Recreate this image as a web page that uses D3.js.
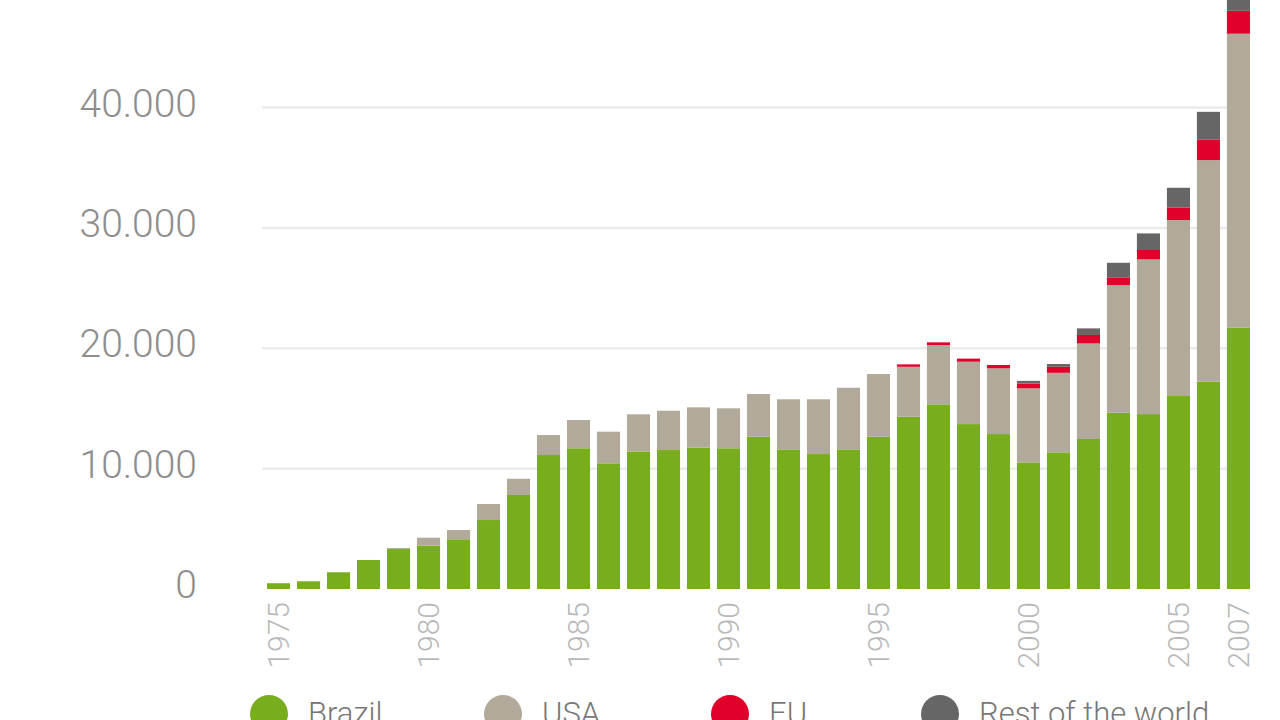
<!DOCTYPE html>
<html>
<head>
<meta charset="utf-8">
<script src="https://cdn.jsdelivr.net/npm/d3@7"></script>
<style>
  html, body { margin: 0; padding: 0; background: #ffffff; overflow: hidden; }
  svg { display: block; font-family: Roboto, "Liberation Sans", Arial, sans-serif; font-weight: 300; }
</style>
</head>
<body>
<svg id="chart" width="1280" height="720"></svg>
<script>
// ---- data (million litres) ----
const years = [1975,1976,1977,1978,1979,1980,1981,1982,1983,1984,1985,1986,1987,1988,1989,1990,
               1991,1992,1993,1994,1995,1996,1997,1998,1999,2000,2001,2002,2003,2004,2005,2006,2007];
const brazil = [480,640,1390,2410,3320,3600,4130,5730,7810,11130,11690,10440,11400,11545,11740,11690,
                12650,11600,11210,11600,12650,14310,15340,13700,12870,10520,11350,12460,14640,14530,16030,17220,21700];
const usa = [0,0,0,0,80,660,770,1330,1350,1660,2350,2630,3110,3265,3350,3320,
             3550,4160,4550,5120,5210,4150,4930,5180,5460,6150,6610,7940,10610,12850,14620,18410,24430];
const eu = [0,0,0,0,0,0,0,0,0,0,0,0,0,0,0,0,
            0,0,0,0,0,200,220,260,280,400,500,700,640,780,1050,1720,1900];
const rest = [0,0,0,0,0,0,0,0,0,0,0,0,0,0,0,0,
              0,0,0,0,0,0,0,0,0,220,230,550,1210,1380,1630,2290,2500];
const seriesNames = ["Brazil","USA","EU","Rest of the world"];
const yTickValues = [0,10000,20000,30000,40000,50000];
const xTickYears = [1975,1980,1985,1990,1995,2000,2005,2007];

// ---- styles ----
const colors = ["#78ad1e","#b1aa9b","#e1002b","#666666"];

const rows = years.map((yr,i) => ({year: yr, "Brazil": brazil[i], "USA": usa[i], "EU": eu[i], "Rest of the world": rest[i]}));

const svg = d3.select("#chart");

const x = d3.scaleBand().domain(years).range([261,1256]).paddingInner(0.23).paddingOuter(0.2);
const y = d3.scaleLinear().domain([0,40000]).range([589,107.5]);

// gridlines
svg.append("g").selectAll("line")
  .data(yTickValues.filter(v => v > 0))
  .join("line")
  .attr("x1", 262).attr("x2", 1247)
  .attr("y1", d => y(d)).attr("y2", d => y(d))
  .attr("stroke", "#ebebeb").attr("stroke-width", 2.5);

// stacked bars
const stack = d3.stack().keys(seriesNames);
const layers = stack(rows);
svg.append("g").selectAll("g")
  .data(layers)
  .join("g")
  .attr("fill", (d,i) => colors[i])
  .selectAll("rect")
  .data(d => d)
  .join("rect")
  .attr("x", d => x(d.data.year))
  .attr("width", x.bandwidth())
  .attr("y", d => y(d[1]))
  .attr("height", d => Math.max(0, y(d[0]) - y(d[1])));

// y axis labels
const fmt = v => d3.format(",")(v).replace(/,/g, ".");
const yAxis = svg.append("g")
  .attr("transform", "translate(197,0)")
  .call(d3.axisLeft(y).tickValues(yTickValues).tickFormat(fmt).tickSize(0).tickPadding(0));
yAxis.select(".domain").remove();
yAxis.selectAll("text")
  .attr("fill", "#8e8e8e")
  .attr("font-size", 39)
  .attr("font-family", "Roboto, Liberation Sans, Arial, sans-serif")
  .attr("font-weight", 300)
  .attr("dy", null)
  .attr("y", 8.5);

// x axis labels
const xAxis = svg.append("g")
  .attr("transform", `translate(0,${y(0)})`)
  .call(d3.axisBottom(x).tickValues(xTickYears).tickSize(0).tickPadding(0));
xAxis.select(".domain").remove();
xAxis.selectAll("text")
  .attr("fill", "#b8b8b8")
  .attr("font-size", 30)
  .attr("font-family", "Roboto, Liberation Sans, Arial, sans-serif")
  .attr("font-weight", 300)
  .attr("text-anchor", "end")
  .attr("transform", "rotate(-90)")
  .attr("x", -13)
  .attr("y", 0)
  .attr("dy", "0.36em");

// legend
const legendX = [269, 503, 730, 940];
const legend = svg.append("g").selectAll("g")
  .data(seriesNames)
  .join("g")
  .attr("transform", (d,i) => `translate(${legendX[i]},714)`);
legend.append("circle").attr("r", 19).attr("fill", (d,i) => colors[i]);
legend.append("text")
  .attr("x", 39).attr("y", 10)
  .attr("font-size", 31)
  .attr("font-weight", 300)
  .attr("fill", "#777777")
  .text(d => d);
</script>
</body>
</html>
